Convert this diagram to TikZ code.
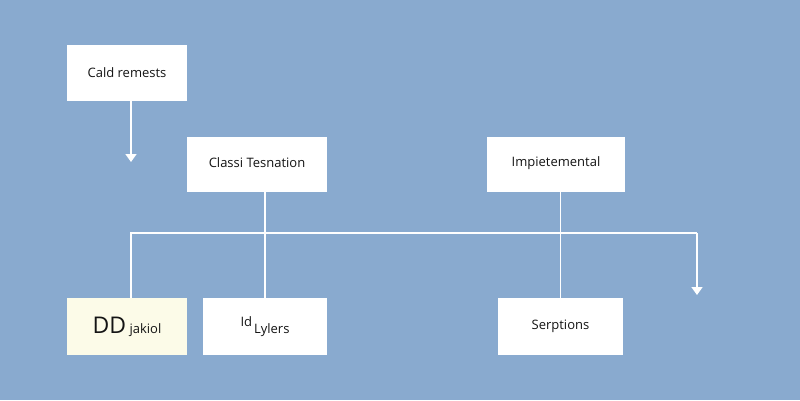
\documentclass[tikz,border=0pt]{standalone}
\usepackage{fontspec}
\setmainfont{Open Sans}
\usetikzlibrary{arrows.meta}
\definecolor{bgblue}{HTML}{89AACF}
\definecolor{paleyellow}{HTML}{FCFBE8}

\begin{document}
\begin{tikzpicture}[x=1pt,y=-1pt]

		% Background
		\fill[bgblue] (0,0) rectangle (800,400);

		% Define styles
		\tikzstyle{card} = [
		rectangle, inner sep=0pt, text centered,
		fill=white, text=black!92, font=\fontsize{13}{15}\selectfont]
		\tikzstyle{link} = [white, line width=1.6pt]
		\tikzstyle{arrow} = [link, -{Triangle[width=11pt,length=8pt]}]

		% Nodes
		\node (cald) [card, minimum width=120pt, minimum height=56pt] at (127,73) {Cald remests};

		\node (classi) [card, minimum width=140pt, minimum height=55pt] at (257,164.5) {
			\raisebox{3pt}{Classi Tesnation}
		};

		\node (impl) [card, minimum width=138pt, minimum height=55pt] at (556,164.5) {
			\raisebox{6pt}{Impietemental}
		};

		\node (dd) [card, fill=paleyellow, minimum width=120pt, minimum height=57pt] at (127,326.5) {
			{\fontsize{23}{25}\selectfont DD} jakiol
		};

		\node (lylers) [card, minimum width=124pt, minimum height=57pt] at (265,326.5) {
			\raisebox{7pt}{Id}\hspace{2pt}Lylers
		};

		\node (serp) [card, minimum width=125pt, minimum height=57pt] at (560.5,326.5) {
			\raisebox{2pt}{Serptions}
		};

		% Free ends
		\coordinate (tipL) at (131,162);
		\coordinate (joinL) at (131,233);
		\coordinate (joinR) at (697,233);
		\coordinate (tipR) at (697,295);

		% Arrows
		\draw [arrow] (cald.south -| tipL) -- (tipL);
		\draw [link] (lylers.north |- classi.south) -- (lylers.north);
		\draw [link] (serp.north |- impl.south) -- (serp.north);
		\draw [link] (dd.north -| joinL) -- (joinL) -- (joinR);
		\draw [arrow] (joinR) -- (tipR);
	\end{tikzpicture}
\end{document}
